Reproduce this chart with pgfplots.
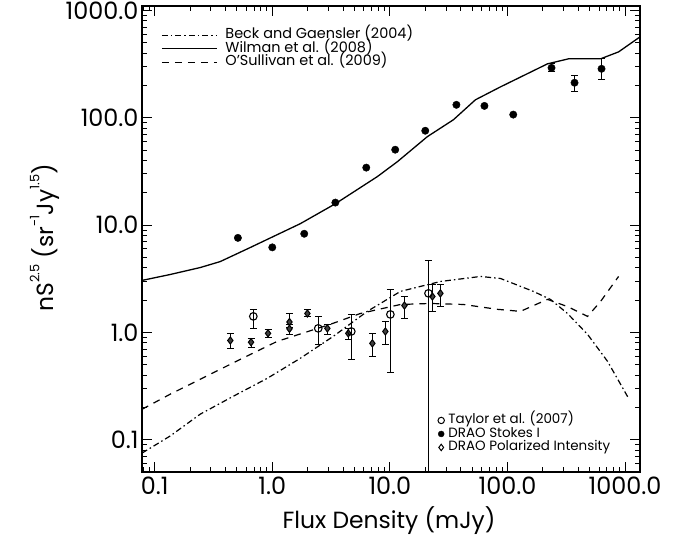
\documentclass[border=0pt]{standalone}
\usepackage{pgfplots}
\pgfplotsset{compat=1.18}
\usepackage{pgfplotstable}
\usepackage{fontspec}
\setmainfont{Poppins}

% small raised text for the unit exponents
\newcommand\sups[1]{\raisebox{0.62em}{\fontsize{13}{13}\selectfont #1}}

% Stokes I counts without visible error bars
\pgfplotstableread{
x      y
0.51   7.6
1.0    6.2
1.87   8.3
3.44   16.2
6.3    34.3
11.1   50.4
20.0   75.7
36.8   132
63.7   129
112    107
}\stokesA
% Stokes I counts with error bars
\pgfplotstableread{
x    y    ep   em
237  292  26   24
372  212  34   37
631  286  68   60
}\stokesB
% Taylor et al. (2007)
\pgfplotstableread{
x     y     ep    em
0.69  1.41  0.23  0.32
2.46  1.09  0.32  0.32
4.70  1.02  0.45  0.46
10.1  1.47  1.04  1.05
21.3  2.31  2.36  2.30
}\taylor
% DRAO polarized intensity
\pgfplotstableread{
x     y     ep    em
0.44  0.84  0.14  0.13
0.66  0.81  0.07  0.08
0.92  0.98  0.09  0.08
1.40  1.25  0.25  0.15
1.40  1.08  0.10  0.12
1.99  1.50  0.14  0.09
2.94  1.09  0.10  0.13
4.43  0.98  0.11  0.12
7.10  0.79  0.19  0.19
9.16  1.02  0.25  0.25
13.3  1.78  0.38  0.43
23.0  2.16  0.64  0.59
26.9  2.31  0.49  0.56
}\draopi

\begin{document}
\begin{tikzpicture}
\useasboundingbox (-142bp,-67bp) rectangle (533bp,472bp);

% model curves and the frame
\begin{loglogaxis}[
  scale only axis, width=498bp, height=466bp,
  at={(0,0)}, anchor=south west,
  xmin=0.078, xmax=1340, ymin=0.05, ymax=1100,
  xtick={0.1,1,10,100,1000}, xticklabels={0.1,1.0,10.0,100.0,1000.0},
  ytick={0.1,1,10,100,1000}, yticklabels={0.1,1.0,10.0,100.0,1000.0},
  minor xtick={0.08,0.09,0.2,0.3,0.4,0.5,0.6,0.7,0.8,0.9,2,3,4,5,6,7,8,9,20,30,40,50,60,70,80,90,200,300,400,500,600,700,800,900},
  minor ytick={0.06,0.07,0.08,0.09,0.2,0.3,0.4,0.5,0.6,0.7,0.8,0.9,2,3,4,5,6,7,8,9,20,30,40,50,60,70,80,90,200,300,400,500,600,700,800,900},
  tick align=inside,
  major tick length=10bp, minor tick length=5bp,
  every tick/.append style={black, line width=0.9bp},
  axis line style={line width=1.2bp},
  tick label style={font=\fontsize{24}{24}\selectfont},
  xticklabel style={yshift=-1bp},
  xlabel={Flux Density (mJy)},
  ylabel={nS\sups{2.5} (sr\sups{-1}Jy\sups{1.5})},
  label style={font=\fontsize{23.5}{24}\selectfont},
  xlabel style={at={(axis description cs:0.496,-0.105)}, anchor=center},
  ylabel style={at={(axis description cs:-0.195,0.503)}, anchor=center},
  legend style={draw=none, fill=none, at={(0.032,0.957)}, anchor=north west,
    font=\fontsize{14.5}{15}\selectfont, row sep=-0.5bp,
    nodes={inner sep=0pt, text height=10.5bp, text depth=3.5bp},
    /tikz/every odd column/.append style={column sep=8bp}},
  legend cell align=left,
  legend image code/.code={\draw[#1] (0bp,0bp) -- (55bp,0bp);},
]
\addplot[black, line width=1.2bp, dash pattern=on 6bp off 3bp on 1.5bp off 3bp] coordinates {
(0.078,0.075)(0.135,0.108)(0.244,0.173)(0.466,0.254)(0.906,0.373)(1.73,0.573)
(3.30,0.918)(6.43,1.57)(12.3,2.41)(26.9,2.98)(58.9,3.32)(87.2,3.18)(166,2.41)
(232,2.03)(324,1.50)(480,0.958)(710,0.537)(1071,0.243)};
\addlegendentry{Beck and Gaensler (2004)}
\addplot[black, line width=1.3bp] coordinates {
(0.078,3.05)(0.135,3.46)(0.244,4.02)(0.361,4.57)(0.65,6.18)(1.73,10.3)(3.44,15.8)
(7.83,28.3)(11.6,39.0)(20.8,66.6)(34.7,95.8)(53.4,147)(87.2,194)(219,318)(330,354)
(618,354)(881,411)(1340,567)};
\addlegendentry{Wilman et al. (2008)}
\addplot[black, line width=1.2bp, dash pattern=on 7bp off 6bp] coordinates {
(0.078,0.192)(0.135,0.265)(0.244,0.366)(0.535,0.561)(1.10,0.824)(3.12,1.19)
(5.61,1.50)(12.3,1.82)(22.1,1.86)(42.3,1.82)(82.2,1.64)(129,1.57)(219,2.03)
(324,1.74)(480,1.41)(619,1.94)(881,3.32)};
\addlegendentry{O'Sullivan et al. (2009)}
\end{loglogaxis}

% measured counts
\begin{loglogaxis}[
  scale only axis, width=498bp, height=466bp,
  at={(0,0)}, anchor=south west,
  xmin=0.078, xmax=1340, ymin=0.05, ymax=1100,
  hide axis,
  legend style={draw=none, fill=none, at={(0.588,0.034)}, anchor=south west,
    font=\fontsize{13.5}{14}\selectfont, row sep=0.5bp,
    nodes={inner sep=0pt, text height=10bp, text depth=3bp},
    /tikz/every odd column/.append style={column sep=4bp}},
  legend cell align=left,
  legend image code/.code={\draw[mark repeat=2,mark phase=2,#1] plot coordinates {(0bp,0bp) (4bp,0bp) (8bp,0bp)};},
]
\addlegendimage{only marks, mark=o, mark size=3.2bp, mark options={line width=1bp}}
\addlegendentry{Taylor et al. (2007)}
\addlegendimage{only marks, mark=*, mark size=3bp, mark options={fill=black}}
\addlegendentry{DRAO Stokes I}
\addlegendimage{only marks, mark=diamond, mark size=3.2bp, mark options={line width=1bp}}
\addlegendentry{DRAO Polarized Intensity}

\addplot[only marks, mark=*, mark size=3.7bp, black, mark options={fill=black}, forget plot]
  table[x=x, y=y] {\stokesA};
\addplot[only marks, mark=*, mark size=3.7bp, black, mark options={fill=black}, forget plot,
  error bars/.cd, y dir=both, y explicit,
  error bar style={line width=1.1bp}, error mark options={rotate=90, mark size=3.5bp, line width=1.1bp}]
  table[x=x, y=y, y error plus=ep, y error minus=em] {\stokesB};
\addplot[only marks, mark=diamond*, mark size=3.6bp, black, mark options={fill=black!75, line width=1bp}, forget plot,
  error bars/.cd, y dir=both, y explicit,
  error bar style={line width=1.1bp}, error mark options={rotate=90, mark size=3.5bp, line width=1.1bp}]
  table[x=x, y=y, y error plus=ep, y error minus=em] {\draopi};
\addplot[only marks, mark=o, mark size=3.8bp, black, mark options={line width=1.1bp}, forget plot,
  error bars/.cd, y dir=both, y explicit,
  error bar style={line width=1.1bp}, error mark options={rotate=90, mark size=3.5bp, line width=1.1bp}]
  table[x=x, y=y, y error plus=ep, y error minus=em] {\taylor};
\end{loglogaxis}
\end{tikzpicture}
\end{document}
